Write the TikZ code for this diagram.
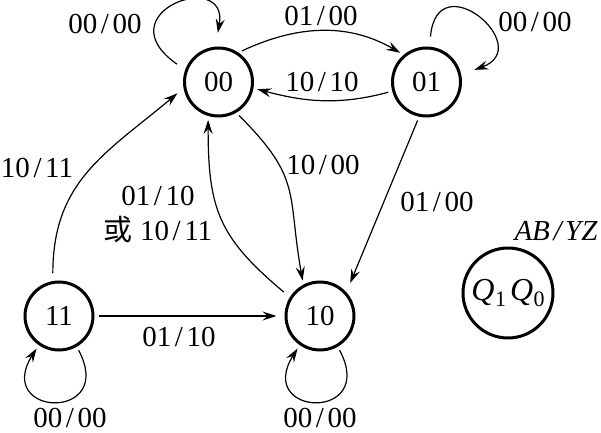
\documentclass[tikz,border=0pt]{standalone}
\usepackage{fontspec}
\setmainfont{Liberation Serif}
\newfontfamily\cjk{Noto Sans CJK SC}
\usetikzlibrary{arrows.meta}
\newcommand\slsh{\kern1.8pt/\kern1.8pt}
\begin{document}
\begin{tikzpicture}[x=0.5pt,y=0.5pt,
  state/.style={circle,draw,line width=1.5pt,minimum size=34pt,inner sep=0pt,
    font=\fontsize{14.5}{16}\selectfont},
  lbl/.style={inner sep=0pt,text height=9.5pt,text depth=0pt,
    font=\fontsize{14.5}{16}\selectfont},
  edge/.style={line width=0.6pt,-{Stealth[length=7pt,width=4.5pt,inset=2.5pt]},
    shorten >=2pt,shorten <=2pt}]
\useasboundingbox (0,0) rectangle (601,-433);
% states
\node[state] (s00) at (218.5,-82) {00};
\node[state] (s01) at (426.5,-82) {01};
\node[state] (s11) at (59,-316) {11};
\node[state] (s10) at (320,-316) {10};
\node[state,minimum size=45pt] (leg) at (508,-293)
  {\fontsize{16}{18}\selectfont\itshape Q\kern0.3pt\raisebox{-3pt}{\upshape\fontsize{11}{12}\selectfont 1}\kern2pt Q\kern0.3pt\raisebox{-3pt}{\upshape\fontsize{11}{12}\selectfont 0}};
% transitions
\draw[edge] (s00.56) to[out=25,in=150] (s01.130);
\draw[edge] (s01.195) to[out=195,in=-15] (s00.350);
\draw[edge,shorten <=4pt,shorten >=4pt] (s11.100) to[out=90,in=220,looseness=1.1] (s00.190);
\draw[edge] (s00.300) to[out=-45,in=100,looseness=1.3] (s10.118);
\draw[edge,shorten <=4pt] (s10.148) to[out=140,in=-90,looseness=1.2] (s00.253);
\draw[edge,shorten >=5pt] (s01.258) -- (s10.42);
\draw[edge,shorten >=4pt] (s11) -- (s10);
% self loops
\draw[edge,shorten <=5pt,shorten >=7pt] (s00.160) .. controls +(145:100) and +(80:80) .. (s00.95);
\draw[edge,shorten <=5pt,shorten >=7pt] (s01.85) .. controls +(85:85) and +(20:80) .. (s01.12);
\draw[edge] (s11.300) .. controls +(-62:85) and +(238:85) .. (s11.235);
\draw[edge] (s10.300) .. controls +(-62:85) and +(238:85) .. (s10.235);
% labels
\node[lbl] (l1) at (105,-24) {00\slsh00};
\node[lbl] (l2) at (321,-16) {01\slsh00};
\node[lbl] (l3) at (535,-22) {00\slsh00};
\node[lbl] (l4) at (322,-82) {10\slsh10};
\node[lbl] (l5) at (37,-168) {10\slsh11};
\node[lbl] (l6) at (323,-165) {10\slsh00};
\node[lbl] (l7) at (158,-196) {01\slsh10};
\node[lbl] (l8) at (158,-231) {{\cjk 或} 10\slsh11};
\node[lbl] (l9) at (437,-202) {01\slsh00};
\node[lbl] (l10) at (556,-231) {\itshape AB\slsh YZ};
\node[lbl] (l11) at (179,-337) {01\slsh10};
\node[lbl] (l12) at (70,-418) {00\slsh00};
\node[lbl] (l13) at (320,-418) {00\slsh00};
\end{tikzpicture}
\end{document}
